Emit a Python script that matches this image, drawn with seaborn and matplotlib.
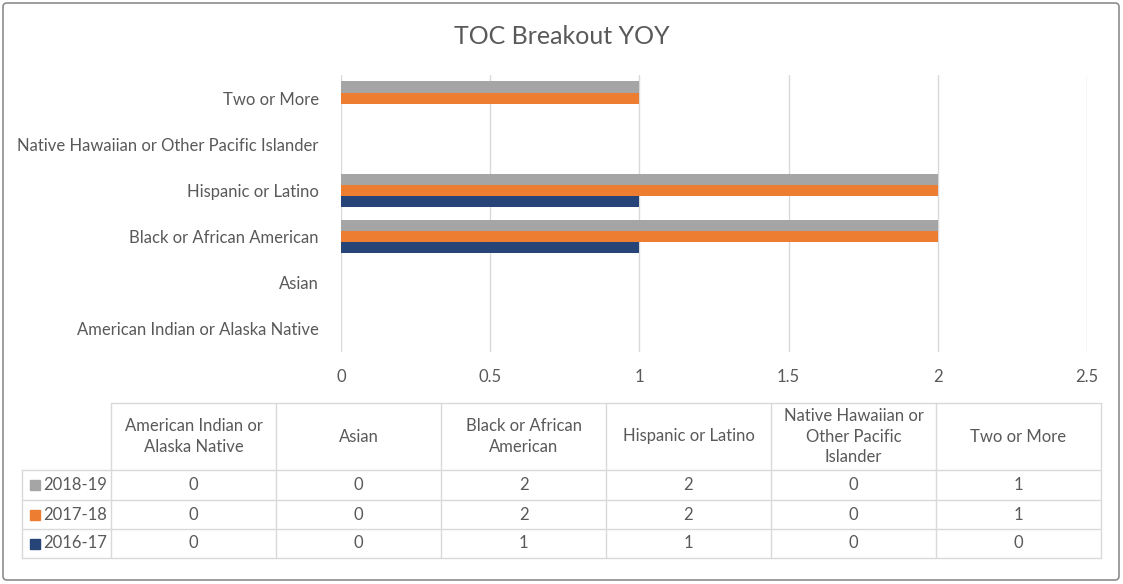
import matplotlib
matplotlib.use("Agg")
import matplotlib.pyplot as plt
import seaborn as sns
import pandas as pd
from matplotlib.patches import FancyBboxPatch, Rectangle

categories = ["American Indian or Alaska Native", "Asian", "Black or African American",
              "Hispanic or Latino", "Native Hawaiian or Other Pacific Islander", "Two or More"]
header_labels = ["American Indian or\nAlaska Native", "Asian", "Black or African\nAmerican",
                 "Hispanic or Latino", "Native Hawaiian or\nOther Pacific\nIslander", "Two or More"]
series_names = ["2018-19", "2017-18", "2016-17"]
v_2018_19 = [0, 0, 2, 2, 0, 1]
v_2017_18 = [0, 0, 2, 2, 0, 1]
v_2016_17 = [0, 0, 1, 1, 0, 0]
colors = {"2018-19": "#A5A5A5", "2017-18": "#ED7D31", "2016-17": "#264478"}
title = "TOC Breakout YOY"

series_vals = {"2018-19": v_2018_19, "2017-18": v_2017_18, "2016-17": v_2016_17}
rows = []
for s in series_names:
    for c, v in zip(categories, series_vals[s]):
        rows.append({"cat": c, "series": s, "value": v})
df = pd.DataFrame(rows)

sns.set_theme(style="white")
plt.rcParams['font.family'] = ['Lato', 'DejaVu Sans']
TXT = "#595959"
GRID = "#D9D9D9"

W, H = 1123, 584
fig = plt.figure(figsize=(W / 100, H / 100), dpi=100)

# pixel-space overlay
ov = fig.add_axes([0, 0, 1, 1])
ov.set_xlim(0, W)
ov.set_ylim(H, 0)
ov.axis("off")
ov.add_patch(FancyBboxPatch((3, 3), W - 7, H - 7, boxstyle="round,pad=0,rounding_size=4",
                            fill=False, ec="#8C8C8C", lw=1.2))

# bar axes
x0, x1, yt, yb = 341, 1087, 75, 352
ax = fig.add_axes([x0 / W, (H - yb) / H, (x1 - x0) / W, (yb - yt) / H])
order = categories[::-1]
sns.barplot(data=df, y="cat", x="value", hue="series", order=order, hue_order=series_names,
            palette=colors, orient="h", width=0.72, ax=ax, legend=False, saturation=1,
            linewidth=0)
ax.set_xlim(0, 2.5)
ax.set_xticks([0, 0.5, 1, 1.5, 2, 2.5])
ax.set_xticklabels(["0", "0.5", "1", "1.5", "2", "2.5"])
ax.grid(axis="x", color=GRID, lw=1)
ax.set_axisbelow(True)
for sp in ax.spines.values():
    sp.set_visible(False)
ax.tick_params(axis="both", length=0, labelsize=12, labelcolor=TXT)
ax.tick_params(axis="y", pad=16)
ax.tick_params(axis="x", pad=12)
ax.set_xlabel("")
ax.set_ylabel("")

ov.text(W / 2, 37, title, ha="center", va="center", fontsize=18, color=TXT)

# data table
tl, tr = 22, 1101
c0 = 111
cw = (tr - c0) / len(categories)
hy0, hy1 = 403, 470
row_edges = [470, 500, 529, 558]
lc = "#D9D9D9"
ov.plot([c0, tr], [hy0, hy0], color=lc, lw=1)
for y in row_edges:
    ov.plot([tl, tr], [y, y], color=lc, lw=1)
ov.plot([tl, tl], [hy1, row_edges[-1]], color=lc, lw=1)
for i in range(len(categories) + 1):
    x = c0 + i * cw
    ov.plot([x, x], [hy0, row_edges[-1]], color=lc, lw=1)
for i, lab in enumerate(header_labels):
    ov.text(c0 + (i + 0.5) * cw, (hy0 + hy1) / 2, lab, ha="center", va="center",
            fontsize=12, color=TXT, linespacing=1.35)
for r, s in enumerate(series_names):
    yc = (row_edges[r] + row_edges[r + 1]) / 2
    ov.add_patch(Rectangle((30, yc - 5), 10, 10, color=colors[s]))
    ov.text(43, yc, s, ha="left", va="center", fontsize=12, color=TXT)
    for i, v in enumerate(series_vals[s]):
        ov.text(c0 + (i + 0.5) * cw, yc, str(v), ha="center", va="center", fontsize=12, color=TXT)

fig.savefig("out.png", dpi=100)
